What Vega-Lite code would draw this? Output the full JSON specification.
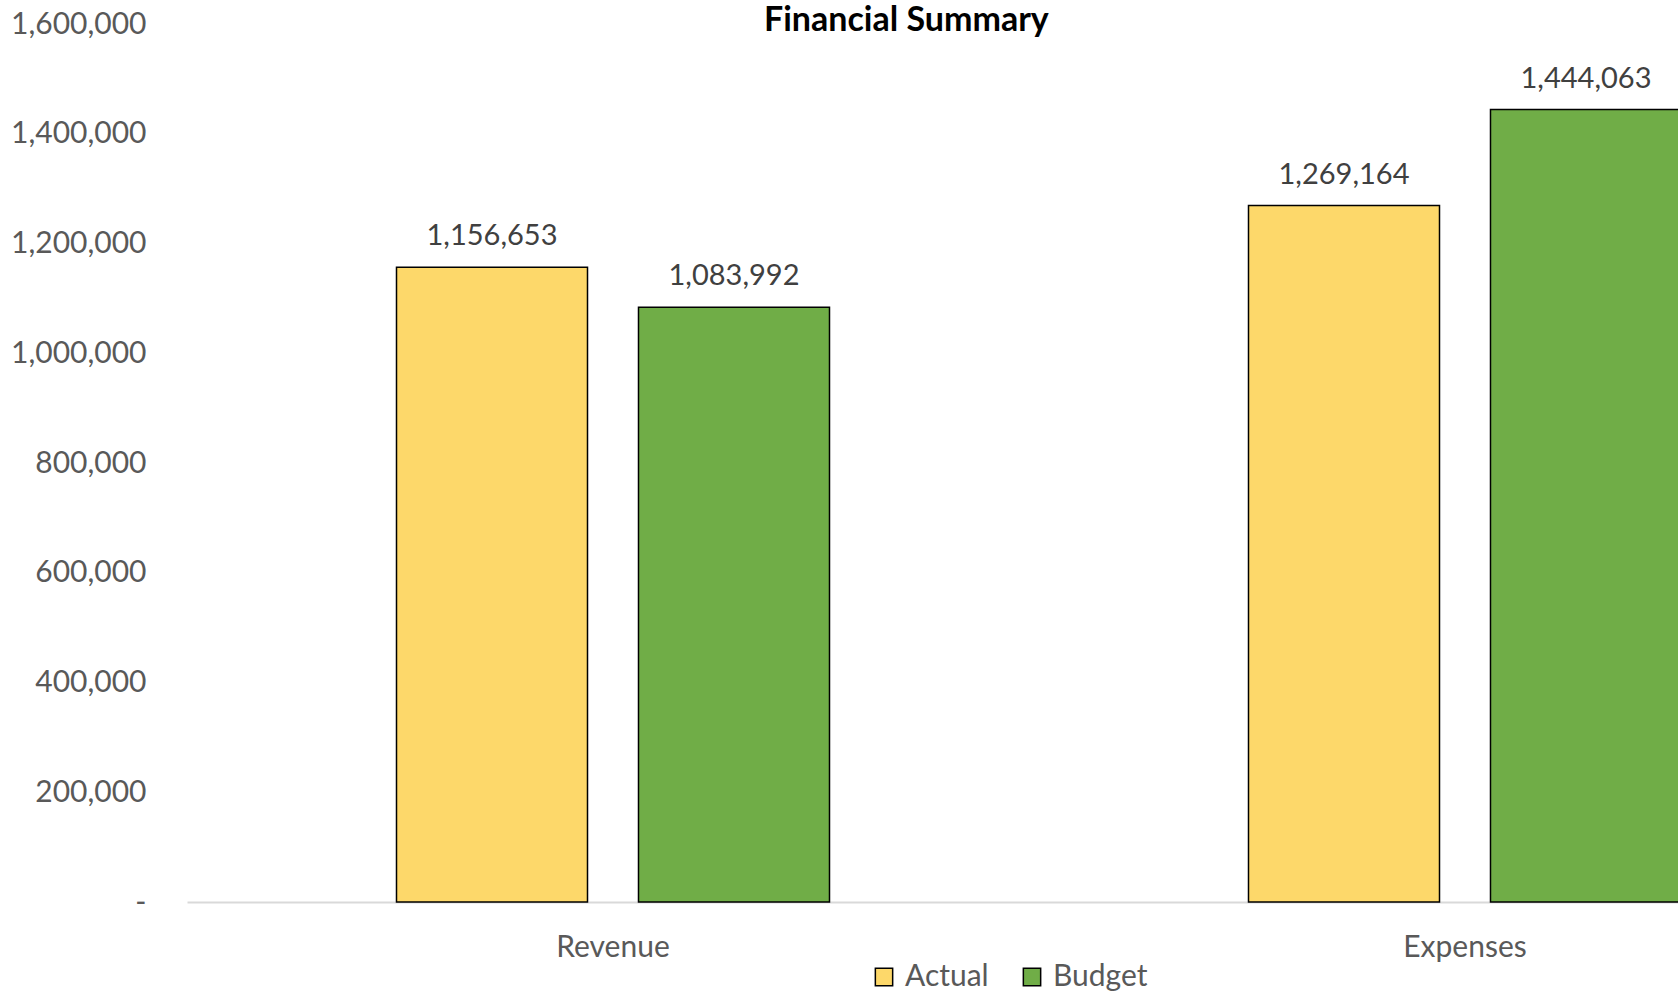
{
  "$schema": "https://vega.github.io/schema/vega-lite/v6.json",
  "autosize": {"type": "none"},
  "padding": {"left": 187, "top": 24, "right": 0, "bottom": 92},
  "width": 1491,
  "height": 878,
  "background": "white",
  "config": {
    "font": "Lato",
    "view": {"stroke": null}
  },
  "title": {
    "text": "Financial Summary",
    "font": "Lato",
    "fontSize": 34,
    "fontWeight": "bold",
    "color": "#000000",
    "anchor": "start",
    "frame": "group",
    "baseline": "alphabetic",
    "dx": 577,
    "dy": 27,
    "offset": -29
  },
  "data": {
    "values": [
      {"category": "Revenue", "series": "Actual", "value": 1156653},
      {"category": "Revenue", "series": "Budget", "value": 1083992},
      {"category": "Expenses", "series": "Actual", "value": 1269164},
      {"category": "Expenses", "series": "Budget", "value": 1444063}
    ]
  },
  "encoding": {
    "x": {
      "field": "category",
      "type": "nominal",
      "sort": ["Revenue", "Expenses"],
      "scale": {"range": [0, 1704], "paddingInner": 0, "paddingOuter": 0},
      "axis": {
        "title": null,
        "labelAngle": 0,
        "ticks": false,
        "domainColor": "#d9d9d9",
        "domainWidth": 2,
        "labelFont": "Lato",
        "labelFontSize": 30,
        "labelColor": "#595959",
        "labelBaseline": "alphabetic",
        "labelPadding": 54
      }
    },
    "xOffset": {
      "field": "series",
      "type": "nominal",
      "sort": ["Actual", "Budget"],
      "scale": {"paddingInner": 0.2107, "paddingOuter": 0.8657}
    },
    "y": {
      "field": "value",
      "type": "quantitative",
      "scale": {"domain": [0, 1600000], "nice": false},
      "axis": {
        "title": null,
        "values": [0, 200000, 400000, 600000, 800000, 1000000, 1200000, 1400000, 1600000],
        "labelExpr": "datum.value == 0 ? '-' : format(datum.value, ',')",
        "domain": false,
        "ticks": false,
        "grid": false,
        "labelFont": "Lato",
        "labelFontSize": 30,
        "labelColor": "#595959",
        "labelPadding": 41
      }
    }
  },
  "layer": [
    {
      "mark": {"type": "bar", "stroke": "#000000", "strokeWidth": 1.5},
      "encoding": {
        "color": {
          "field": "series",
          "type": "nominal",
          "sort": ["Actual", "Budget"],
          "scale": {"domain": ["Actual", "Budget"], "range": ["#FDD86A", "#70AD47"]},
          "legend": {
            "title": null,
            "orient": "none",
            "direction": "horizontal",
            "legendX": 682,
            "legendY": 938,
            "symbolType": "square",
            "symbolSize": 300,
            "symbolStrokeColor": "#000000",
            "symbolStrokeWidth": 1.5,
            "labelFont": "Lato",
            "labelFontSize": 30,
            "labelColor": "#595959",
            "labelOffset": 6,
            "columnPadding": 28,
            "padding": 0
          }
        }
      }
    },
    {
      "mark": {"type": "text", "baseline": "alphabetic", "dy": -22, "font": "Lato", "fontSize": 29, "color": "#404040"},
      "encoding": {
        "text": {"field": "value", "type": "quantitative", "format": ","}
      }
    }
  ]
}
